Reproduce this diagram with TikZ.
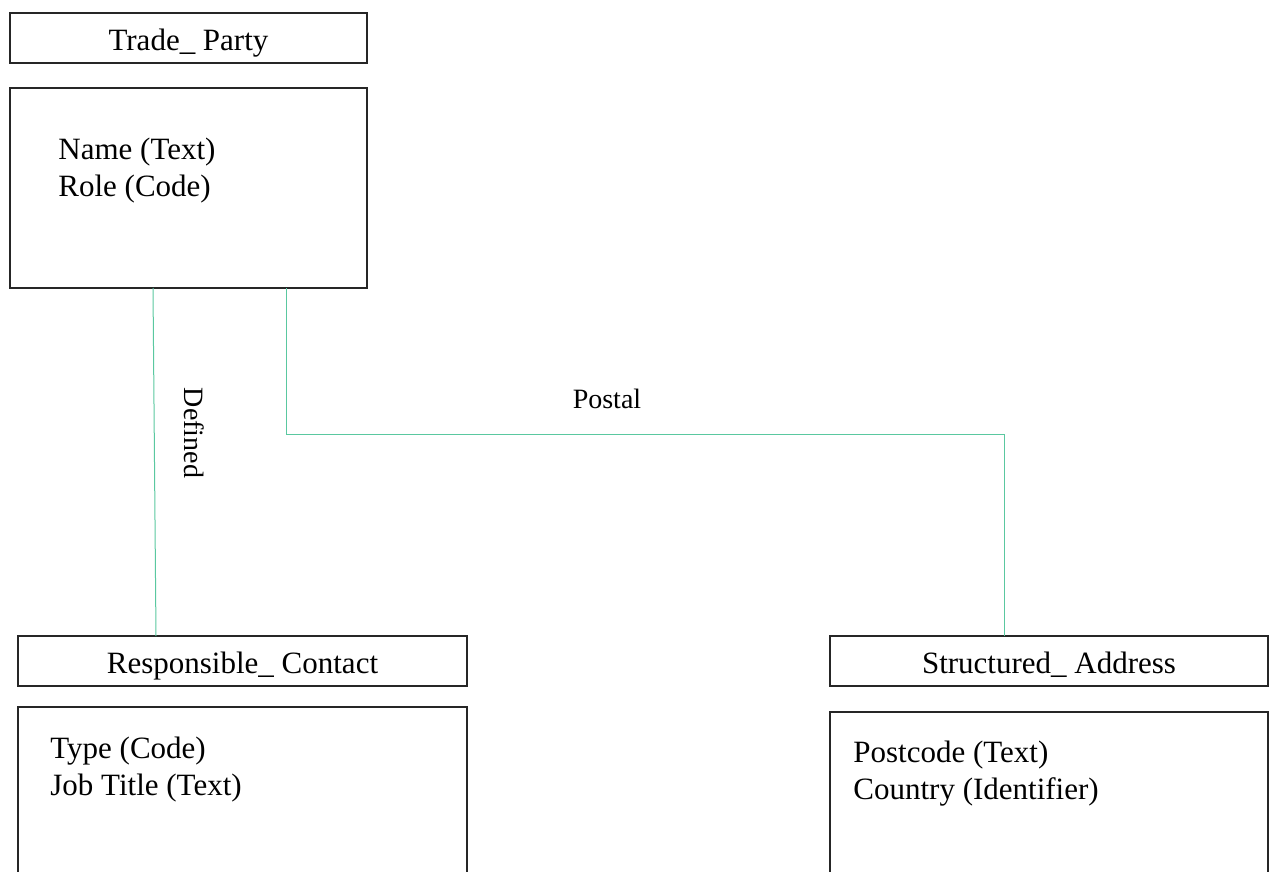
\documentclass[tikz,border=0pt]{standalone}
\usepackage{fontspec}
\setmainfont{Liberation Serif}
\usepackage{xcolor}
\usetikzlibrary{positioning,calc}
\definecolor{linkgreen}{RGB}{90,200,160}

\begin{document}
\begin{tikzpicture}[
		titlebox/.style={rectangle, draw=black!85, line width=0.6pt, outer sep=0pt, inner sep=3pt, minimum height=25pt, text height=12.5pt, text depth=0pt, font=\fontsize{15.5}{18.5}\selectfont},
		bodybox/.style={rectangle, draw=black!85, line width=0.6pt, outer sep=0pt, minimum height=100pt},
		attr/.style={inner sep=0pt, align=left, font=\fontsize{15.5}{18.5}\selectfont},
		link/.style={draw=linkgreen, line width=0.5pt},
		lbl/.style={inner sep=0pt, font=\fontsize{14}{16}\selectfont}]
	\useasboundingbox (0,0) rectangle (634.5pt,-436pt);

	\node[titlebox, minimum width=178.5pt] (tp) at (94.25pt,-19pt) {Trade\_ Party};
	\node[bodybox, minimum width=178.5pt, below=12.5pt of tp] (tpbody) {};
	\node[attr, below right=25pt and 24pt of tpbody.north west] (tpattr) {Name (Text)\\Role (Code)};

	\node[titlebox, minimum width=224.5pt] (rc) at (121.25pt,-330.5pt) {Responsible\_ Contact};
	\node[bodybox, minimum width=224.5pt, below=10.5pt of rc] (rcbody) {};
	\node[attr, below right=15pt and 16pt of rcbody.north west] (rcattr) {Type (Code)\\Job Title (Text)};

	\node[titlebox, minimum width=219pt] (sa) at (524.5pt,-330.5pt) {Structured\_ Address};
	\node[bodybox, minimum width=219pt, below=13pt of sa] (sabody) {};
	\node[attr, below right=14.5pt and 11.5pt of sabody.north west] (saattr) {Postcode (Text)\\Country (Identifier)};

	\draw[link] ($(tpbody.south west)+(71.5pt,0)$) -- ($(rc.north west)+(69pt,0)$);
	\draw[link] ($(tpbody.south west)+(138pt,0)$) -- ++(0,-73pt) -| ($(sa.north west)+(87pt,0)$);

	\node[lbl] (postal) at (303.5pt,-199.5pt) {Postal};
	\node[lbl, rotate=-90] (defined) at (97pt,-216.5pt) {Defined};
\end{tikzpicture}
\end{document}
